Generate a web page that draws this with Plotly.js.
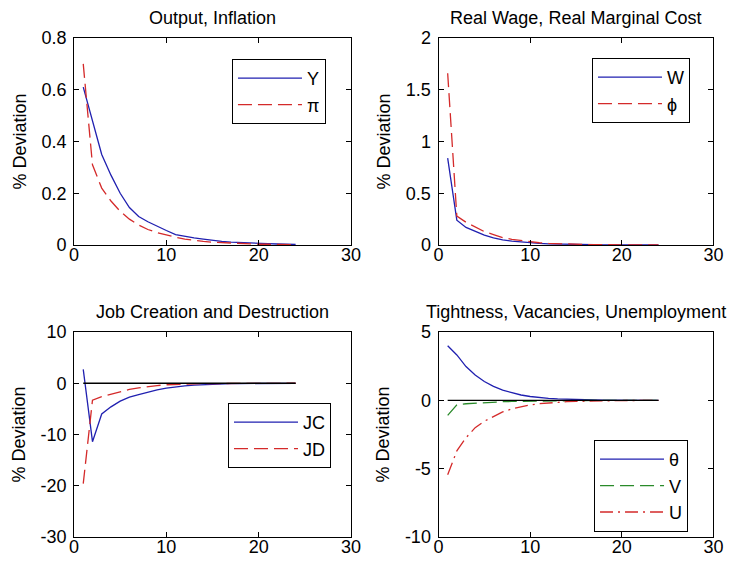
<!DOCTYPE html>
<html>
<head>
<meta charset="utf-8">
<script src="https://cdn.plot.ly/plotly-3.0.1.min.js"></script>
<style>
  html, body { margin: 0; padding: 0; background: #ffffff; }
  #chart { width: 735px; height: 563px; }
</style>
</head>
<body>
<div id="chart"></div>
<script>
// ---- data (impulse responses, periods 1..24) ----
var periods = [1,2,3,4,5,6,7,8,9,10,11,12,13,14,15,16,17,18,19,20,21,22,23,24];

var outputY   = [0.61,0.48,0.35,0.27,0.20,0.145,0.11,0.09,0.072,0.056,0.04,0.033,0.028,0.023,0.018,0.014,0.011,0.009,0.007,0.006,0.005,0.004,0.003,0.002];
var inflation = [0.70,0.31,0.22,0.17,0.13,0.10,0.077,0.06,0.048,0.038,0.03,0.023,0.018,0.014,0.011,0.009,0.007,0.005,0.004,0.003,0.003,0.002,0.002,0.001];

var realWage  = [0.84,0.24,0.17,0.13,0.095,0.07,0.05,0.038,0.028,0.02,0.015,0.011,0.008,0.006,0.005,0.004,0.003,0.002,0.002,0.001,0.001,0.001,0.001,0.0];
var margCost  = [1.66,0.28,0.22,0.175,0.13,0.10,0.072,0.055,0.042,0.03,0.022,0.016,0.012,0.009,0.007,0.005,0.004,0.003,0.002,0.002,0.001,0.001,0.001,0.0];

var jobCreation    = [2.7,-11.4,-6.0,-4.6,-3.5,-2.7,-2.2,-1.7,-1.3,-0.95,-0.7,-0.5,-0.35,-0.25,-0.17,-0.12,-0.08,-0.06,-0.04,-0.03,-0.02,-0.015,-0.01,-0.007];
var jobDestruction = [-19.6,-3.3,-2.6,-2.1,-1.6,-1.2,-0.9,-0.65,-0.45,-0.3,-0.2,-0.14,-0.1,-0.07,-0.05,-0.035,-0.025,-0.018,-0.012,-0.009,-0.006,-0.004,-0.003,-0.002];

var tightness    = [4.0,3.32,2.47,1.86,1.38,1.02,0.74,0.54,0.39,0.28,0.2,0.15,0.1,0.07,0.05,0.035,0.025,0.018,0.013,0.009,0.006,0.004,0.003,0.002];
var vacancies    = [-1.1,-0.33,-0.25,-0.2,-0.16,-0.13,-0.1,-0.08,-0.065,-0.05,-0.04,-0.03,-0.025,-0.02,-0.015,-0.012,-0.009,-0.007,-0.005,-0.004,-0.003,-0.002,-0.002,-0.001];
var unemployment = [-5.45,-3.7,-2.74,-2.0,-1.53,-1.16,-0.85,-0.63,-0.46,-0.34,-0.25,-0.19,-0.14,-0.1,-0.075,-0.055,-0.04,-0.03,-0.022,-0.016,-0.012,-0.009,-0.006,-0.004];

var zeroLine = [0,0,0,0,0,0,0,0,0,0,0,0,0,0,0,0,0,0,0,0,0,0,0,0];

// ---- tick labels ----
var xTickVals = [0,10,20,30];
var xTickText = ['0','10','20','30'];
var y1TickVals = [0,0.2,0.4,0.6,0.8];
var y1TickText = ['0','0.2','0.4','0.6','0.8'];
var y2TickVals = [0,0.5,1,1.5,2];
var y2TickText = ['0','0.5','1','1.5','2'];
var y3TickVals = [-30,-20,-10,0,10];
var y3TickText = ['-30','-20','-10','0','10'];
var y4TickVals = [-10,-5,0,5];
var y4TickText = ['-10','-5','0','5'];

var panelTitles = ['Output, Inflation','Real Wage, Real Marginal Cost','Job Creation and Destruction','Tightness, Vacancies, Unemployment'];
var yLabel = '% Deviation';

// ---- styles ----
var FONT = 'Liberation Sans, Arial, Helvetica, sans-serif';
var BLUE = '#2020b0', RED = '#d42a2a', GREEN = '#2a8a2a';
var LW = 1.3;
var DASH = '14px,6px';
var DASHDOT = '13px,5px,2px,5px';

function line(x, y, name, color, dash, xa, ya, leg, showleg) {
  return {
    type: 'scatter', mode: 'lines', x: x, y: y, name: name,
    line: {color: color, width: LW, dash: dash},
    xaxis: xa, yaxis: ya, legend: leg, showlegend: showleg,
    hoverinfo: 'skip'
  };
}

var traces = [
  line(periods, outputY, 'Y', BLUE, 'solid', 'x', 'y', 'legend', true),
  line(periods, inflation, 'π', RED, DASH, 'x', 'y', 'legend', true),

  line(periods, realWage, 'W', BLUE, 'solid', 'x2', 'y2', 'legend2', true),
  line(periods, margCost, 'ϕ', RED, DASH, 'x2', 'y2', 'legend2', true),

  line(periods, jobCreation, 'JC', BLUE, 'solid', 'x3', 'y3', 'legend3', true),
  line(periods, jobDestruction, 'JD', RED, DASH, 'x3', 'y3', 'legend3', true),
  line(periods, zeroLine, 'zero', '#000000', 'solid', 'x3', 'y3', 'legend3', false),

  line(periods, tightness, 'θ', BLUE, 'solid', 'x4', 'y4', 'legend4', true),
  line(periods, vacancies, 'V', GREEN, DASH, 'x4', 'y4', 'legend4', true),
  line(periods, unemployment, 'U', RED, DASHDOT, 'x4', 'y4', 'legend4', true),
  line(periods, zeroLine, 'zero', '#000000', 'solid', 'x4', 'y4', 'legend4', false)
];

function xAxis(domain, anchor) {
  return {
    domain: domain, anchor: anchor, range: [0, 30],
    tickvals: xTickVals, ticktext: xTickText,
    ticks: 'inside', ticklen: 5, tickcolor: '#000', tickwidth: 1,
    showline: true, linecolor: '#000', linewidth: 1, mirror: 'ticks',
    showgrid: false, zeroline: false, ticklabelstandoff: -7,
    tickfont: {family: FONT, size: 18, color: '#000'},
    fixedrange: true
  };
}
function yAxis(domain, anchor, range, tv, tt) {
  return {
    domain: domain, anchor: anchor, range: range,
    tickvals: tv, ticktext: tt,
    ticks: 'inside', ticklen: 5, tickcolor: '#000', tickwidth: 1,
    showline: true, linecolor: '#000', linewidth: 1, mirror: 'ticks',
    showgrid: false, zeroline: false, ticklabelstandoff: 3,
    tickfont: {family: FONT, size: 18, color: '#000'},
    title: {text: yLabel, standoff: 10, font: {family: FONT, size: 18, color: '#000'}},
    fixedrange: true
  };
}

var xL = [0.1007, 0.4776], xR = [0.5966, 0.9707];
var yT = [0.5648, 0.9325], yB = [0.0462, 0.4103];

function legendAt(x, y) {
  return {
    x: x, y: y, xanchor: 'left', yanchor: 'top',
    bgcolor: '#ffffff', bordercolor: '#000000', borderwidth: 1,
    font: {family: FONT, size: 18, color: '#000'},
    itemwidth: 64, tracegroupgap: 0
  };
}

function panelTitle(i, xa, ya) {
  return {
    text: panelTitles[i], xref: xa + ' domain', yref: ya + ' domain',
    x: 0.5, y: 1, xanchor: 'center', yanchor: 'bottom', yshift: 8,
    showarrow: false, font: {family: FONT, size: 18, color: '#000'}
  };
}

var layout = {
  width: 735, height: 563,
  margin: {l: 0, r: 0, t: 0, b: 0},
  paper_bgcolor: '#ffffff', plot_bgcolor: '#ffffff',
  showlegend: true,
  xaxis: xAxis(xL, 'y'),
  yaxis: yAxis(yT, 'x', [0, 0.8], y1TickVals, y1TickText),
  xaxis2: xAxis(xR, 'y2'),
  yaxis2: yAxis(yT, 'x2', [0, 2], y2TickVals, y2TickText),
  xaxis3: xAxis(xL, 'y3'),
  yaxis3: yAxis(yB, 'x3', [-30, 10], y3TickVals, y3TickText),
  xaxis4: xAxis(xR, 'y4'),
  yaxis4: yAxis(yB, 'x4', [-10, 5], y4TickVals, y4TickText),
  legend: legendAt(0.3156, 0.8952),
  legend2: legendAt(0.8054, 0.8970),
  legend3: legendAt(0.3102, 0.2842),
  legend4: legendAt(0.8082, 0.2185),
  annotations: [
    panelTitle(0, 'x', 'y'),
    panelTitle(1, 'x2', 'y2'),
    panelTitle(2, 'x3', 'y3'),
    panelTitle(3, 'x4', 'y4')
  ]
};

Plotly.newPlot('chart', traces, layout, {displayModeBar: false, staticPlot: true});
</script>
</body>
</html>
